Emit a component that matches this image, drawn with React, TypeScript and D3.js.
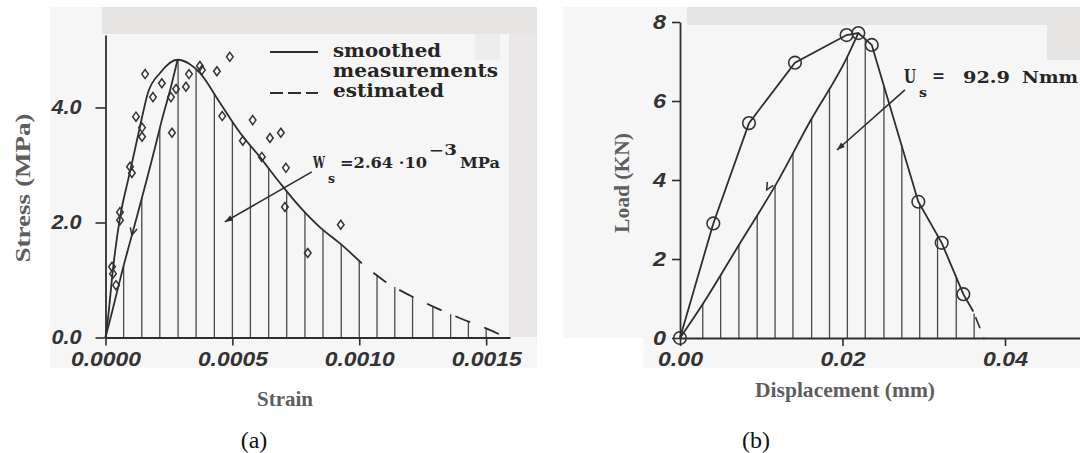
import React, { useEffect, useRef } from 'react';
import * as d3 from 'd3';

// (a) stress vs strain
const strainTicks = [0, 0.0005, 0.001, 0.0015];
const strainTickLabels = ['0.0000', '0.0005', '0.0010', '0.0015'];
const stressTicks = [0, 2, 4];
const stressTickLabels = ['0.0', '2.0', '4.0'];

const smoothedStrain = [0, 0.00001, 0.00003, 0.000057, 0.000088, 0.000104, 0.000124, 0.000144, 0.000167, 0.000215, 0.000284, 0.00033, 0.000372, 0.000451, 0.00053, 0.000608, 0.000687, 0.000766, 0.000844, 0.000923, 0.00101];
const smoothedStress = [0, 0.34, 1.21, 2.08, 2.72, 3.03, 3.43, 3.83, 4.25, 4.6, 4.83, 4.76, 4.6, 4.08, 3.56, 3.14, 2.69, 2.27, 1.92, 1.64, 1.29];

const unloadStrainA = [0, 0.0000256, 0.000065, 0.000104, 0.000163, 0.000195, 0.000222, 0.000258, 0.000284];
const unloadStressA = [0, 0.44, 1.14, 1.78, 2.75, 3.3, 3.78, 4.36, 4.83];

const estimatedStrain = [0.00101, 0.0011, 0.0012, 0.0013, 0.0014, 0.0015, 0.00158];
const estimatedStress = [1.29, 0.98, 0.73, 0.52, 0.33, 0.16, 0];

const measuredStrain = [0.0000256, 0.0000295, 0.0000413, 0.0000571, 0.0000571, 0.0000965, 0.000104, 0.00012, 0.000144, 0.000144, 0.000156, 0.000187, 0.000222, 0.000258, 0.000262, 0.000278, 0.000317, 0.000329, 0.000372, 0.00038, 0.000439, 0.00049, 0.00046, 0.000541, 0.00058, 0.000616, 0.000648, 0.000691, 0.000711, 0.000707, 0.000927, 0.000797];
const measuredStress = [1.23, 1.11, 0.91, 2.18, 2.04, 2.97, 2.86, 3.84, 3.65, 3.49, 4.58, 4.18, 4.42, 4.18, 3.56, 4.32, 4.36, 4.58, 4.72, 4.65, 4.63, 4.88, 3.85, 3.42, 3.78, 3.14, 3.47, 3.56, 2.95, 2.27, 1.96, 1.47];

const hatchStrain = [0.0000714, 0.000143, 0.000214, 0.000286, 0.000357, 0.000429, 0.0005, 0.000571, 0.000643, 0.000714, 0.000786, 0.000857, 0.000929, 0.001, 0.00107, 0.00114, 0.00121, 0.00129, 0.00136, 0.00143, 0.0015];

// (b) load vs displacement
const dispTicks = [0, 0.02, 0.04];
const dispTickLabels = ['0.00', '0.02', '0.04'];
const loadTicks = [0, 2, 4, 6, 8];

const measuredDisp = [0, 0.0041, 0.00849, 0.01415, 0.0205, 0.02195, 0.0236, 0.02933, 0.03221, 0.03487];
const measuredLoad = [0, 2.9, 5.44, 6.97, 7.67, 7.72, 7.42, 3.45, 2.41, 1.11];
const tailDisp = [0.03487, 0.0361];
const tailLoad = [1.11, 0.67];
const estimatedDisp = [0.0361, 0.0374];
const estimatedLoad = [0.67, 0];

const unloadDispB = [0, 0.00287, 0.00738, 0.0119, 0.016, 0.0205, 0.02195];
const unloadLoadB = [0, 0.88, 2.4, 3.92, 5.48, 7.08, 7.72];

const hatchDisp = [0.0028, 0.005, 0.00725, 0.0095, 0.0117, 0.0139, 0.0162, 0.0184, 0.0206, 0.0228, 0.0251, 0.0273, 0.0295, 0.0317, 0.034, 0.0362];

const INK = '#2e2e2e';
const TICK_FONT = '"Liberation Sans", Arial, sans-serif';
const TITLE_FONT = '"Liberation Serif", "Times New Roman", serif';
const SLAB_FONT = '"DejaVu Serif", serif';

type Sel = d3.Selection<SVGGElement, unknown, null, undefined>;

function styleAxis(g: Sel, len: number) {
  g.select('.domain').attr('stroke', INK).attr('stroke-width', 1.8);
  g.selectAll('.tick line').attr('stroke', INK).attr('stroke-width', 1.6);
  g.selectAll('.tick text')
    .attr('fill', '#333')
    .attr('font-family', TICK_FONT)
    .attr('font-size', 20)
    .attr('font-weight', 'bold')
    .attr('font-style', 'italic')
    .attr('textLength', len)
    .attr('lengthAdjust', 'spacingAndGlyphs');
}

function addText(svg: Sel, x: number, y: number, str: string, size: number, len: number | null, font = SLAB_FONT, anchor = 'start') {
  const t = svg.append('text')
    .attr('x', x).attr('y', y)
    .attr('font-family', font)
    .attr('font-size', size)
    .attr('font-weight', 'bold')
    .attr('fill', '#262626')
    .attr('text-anchor', anchor)
    .text(str);
  if (len) t.attr('textLength', len).attr('lengthAdjust', 'spacingAndGlyphs');
  return t;
}

function arrow(svg: Sel, x1: number, y1: number, x2: number, y2: number) {
  svg.append('line').attr('x1', x1).attr('y1', y1).attr('x2', x2).attr('y2', y2)
    .attr('stroke', INK).attr('stroke-width', 1.6);
  const a = Math.atan2(y2 - y1, x2 - x1);
  const l = 8, w = 3;
  const bx = x2 - l * Math.cos(a), by = y2 - l * Math.sin(a);
  svg.append('path')
    .attr('d', `M${x2},${y2}L${bx - w * Math.sin(a)},${by + w * Math.cos(a)}L${bx + w * Math.sin(a)},${by - w * Math.cos(a)}Z`)
    .attr('fill', INK);
}

// small open chevron pointing down along a line (towards origin)
function chevron(svg: Sel, x: number, y: number, x0: number, y0: number) {
  const a = Math.atan2(y - y0, x - x0); // direction back up the line
  const l = 8;
  const p1 = [x + l * Math.cos(a + 0.45), y + l * Math.sin(a + 0.45)];
  const p2 = [x + l * Math.cos(a - 0.45), y + l * Math.sin(a - 0.45)];
  svg.append('path')
    .attr('d', `M${p1[0]},${p1[1]}L${x},${y}L${p2[0]},${p2[1]}`)
    .attr('fill', 'none').attr('stroke', INK).attr('stroke-width', 1.5);
}

export default function App() {
  const svgRef = useRef<SVGSVGElement>(null);

  useEffect(() => {
    if (!svgRef.current) return;
    const root = d3.select(svgRef.current);
    root.selectAll('*').remove();
    const svg = root.append('g') as unknown as Sel;

    // scanned page backgrounds
    const bg = [
      { x: 50, y: 7, w: 487, h: 361, c: '#f6f6f6' },
      { x: 102, y: 7, w: 435, h: 27, c: '#e7e4e4' },
      { x: 509, y: 34, w: 28, h: 303, c: '#e9e7e7' },
      { x: 475, y: 34, w: 25, h: 26, c: '#eeeded' },
      { x: 563, y: 7, w: 517, h: 331, c: '#f6f6f6' },
      { x: 643, y: 338, w: 437, h: 30, c: '#f6f6f6' },
      { x: 687, y: 7, w: 393, h: 18, c: '#e7e4e4' },
      { x: 1047, y: 7, w: 33, h: 53, c: '#e7e4e4' },
    ];
    svg.selectAll('rect.bg').data(bg).join('rect')
      .attr('x', d => d.x).attr('y', d => d.y).attr('width', d => d.w).attr('height', d => d.h)
      .attr('fill', d => d.c);

    // ---------- panel (a) ----------
    const xA = d3.scaleLinear().domain([0, 0.001594]).range([105.5, 510]);
    const yA = d3.scaleLinear().domain([0, 5.26]).range([337.5, 35]);

    const upperXA = [...unloadStrainA,
      ...smoothedStrain.filter(s => s > 0.000284),
      ...estimatedStrain.slice(1)];
    const upperYA = [...unloadStressA,
      ...smoothedStress.filter((_, i) => smoothedStrain[i] > 0.000284),
      ...estimatedStress.slice(1)];
    const upperA = d3.scaleLinear().domain(upperXA).range(upperYA);

    svg.selectAll('line.hatchA').data(hatchStrain).join('line')
      .attr('x1', d => xA(d)).attr('x2', d => xA(d))
      .attr('y1', yA(0)).attr('y2', d => yA(upperA(d)))
      .attr('stroke', '#4a4a4a').attr('stroke-width', 1.3);

    const lineA = d3.line<number>().curve(d3.curveMonotoneX);
    svg.append('path')
      .attr('d', lineA.x(d => xA(d)).y((_, i) => yA(smoothedStress[i]))(smoothedStrain))
      .attr('fill', 'none').attr('stroke', INK).attr('stroke-width', 1.8);
    svg.append('path')
      .attr('d', lineA.x(d => xA(d)).y((_, i) => yA(unloadStressA[i]))(unloadStrainA))
      .attr('fill', 'none').attr('stroke', INK).attr('stroke-width', 1.8);
    svg.append('path')
      .attr('d', lineA.x(d => xA(d)).y((_, i) => yA(estimatedStress[i]))(estimatedStrain))
      .attr('fill', 'none').attr('stroke', INK).attr('stroke-width', 1.8)
      .attr('stroke-dasharray', '16 15').attr('stroke-dashoffset', 16);

    svg.selectAll('path.diamond').data(measuredStrain).join('path')
      .attr('transform', (d, i) => `translate(${xA(d)},${yA(measuredStress[i])})`)
      .attr('d', 'M0,-4.5L3.3,0L0,4.5L-3.3,0Z')
      .attr('fill', 'none').attr('stroke', '#333').attr('stroke-width', 1.5);

    const gxA = svg.append('g').attr('transform', `translate(0,${yA(0)})`)
      .call(d3.axisBottom(xA).tickValues(strainTicks).tickSize(8).tickSizeOuter(0).tickPadding(6)
        .tickFormat((_, i) => strainTickLabels[i])) as Sel;
    styleAxis(gxA, 70);
    const gyA = svg.append('g').attr('transform', `translate(${xA(0)},0)`)
      .call(d3.axisLeft(yA).tickValues(stressTicks).tickSize(10).tickSizeOuter(0).tickPadding(14)
        .tickFormat((_, i) => stressTickLabels[i])) as Sel;
    styleAxis(gyA, 30);

    chevron(svg, xA(0.000104), yA(1.78), xA(0), yA(0));

    // legend
    svg.append('line').attr('x1', 270).attr('x2', 318).attr('y1', 52).attr('y2', 52)
      .attr('stroke', INK).attr('stroke-width', 1.8);
    svg.append('line').attr('x1', 270).attr('x2', 318).attr('y1', 93).attr('y2', 93)
      .attr('stroke', INK).attr('stroke-width', 1.8).attr('stroke-dasharray', '13 5');
    addText(svg, 333, 57, 'smoothed', 18, 108);
    addText(svg, 333, 77, 'measurements', 18, 165);
    addText(svg, 333, 97, 'estimated', 18, 111);

    // W_s annotation
    arrow(svg, xA(0.000813), yA(2.88), xA(0.00047), yA(2.01));
    addText(svg, 313, 168, 'W', 17, 12);
    addText(svg, 328, 183, 's', 13, 7);
    addText(svg, 340, 168, '=2.64 ·10', 15, 87);
    addText(svg, 429, 155, '−3', 14, 28);
    addText(svg, 460, 168, 'MPa', 15, 40);

    // titles
    svg.append('text')
      .attr('transform', 'translate(30,188) rotate(-90)')
      .attr('text-anchor', 'middle').attr('font-family', TITLE_FONT).attr('font-size', 20)
      .attr('font-weight', 'bold').attr('fill', '#5e5e5e')
      .attr('textLength', 149).attr('lengthAdjust', 'spacingAndGlyphs')
      .text('Stress (MPa)');
    addText(svg, 285, 406, 'Strain', 20, 56, TITLE_FONT, 'middle').attr('fill', '#5e5e5e');
    addText(svg, 254, 448, '(a)', 24, null, TITLE_FONT, 'middle').attr('font-weight', 'normal').attr('fill', '#111');

    // ---------- panel (b) ----------
    const xB = d3.scaleLinear().domain([0, 0.04923]).range([680, 1080]);
    const yB = d3.scaleLinear().domain([0, 8]).range([338, 22]);

    const upperXB = [...unloadDispB,
      ...measuredDisp.filter(d => d > 0.02195), ...tailDisp.slice(1), ...estimatedDisp.slice(1)];
    const upperYB = [...unloadLoadB,
      ...measuredLoad.filter((_, i) => measuredDisp[i] > 0.02195), ...tailLoad.slice(1), ...estimatedLoad.slice(1)];
    const upperB = d3.scaleLinear().domain(upperXB).range(upperYB);

    svg.selectAll('line.hatchB').data(hatchDisp).join('line')
      .attr('x1', d => xB(d)).attr('x2', d => xB(d))
      .attr('y1', yB(0)).attr('y2', d => yB(upperB(d)))
      .attr('stroke', '#4a4a4a').attr('stroke-width', 1.3);

    const lineLin = d3.line<number>();
    svg.append('path')
      .attr('d', lineLin.x(d => xB(d)).y((_, i) => yB(measuredLoad[i]))(measuredDisp))
      .attr('fill', 'none').attr('stroke', INK).attr('stroke-width', 1.8);
    svg.append('path')
      .attr('d', lineLin.x(d => xB(d)).y((_, i) => yB(tailLoad[i]))(tailDisp))
      .attr('fill', 'none').attr('stroke', INK).attr('stroke-width', 1.8);
    svg.append('path')
      .attr('d', lineLin.x(d => xB(d)).y((_, i) => yB(estimatedLoad[i]))(estimatedDisp))
      .attr('fill', 'none').attr('stroke', INK).attr('stroke-width', 1.6)
      .attr('stroke-dasharray', '0 6 12 4');
    svg.append('path')
      .attr('d', d3.line<number>().curve(d3.curveMonotoneX).x(d => xB(d)).y((_, i) => yB(unloadLoadB[i]))(unloadDispB))
      .attr('fill', 'none').attr('stroke', INK).attr('stroke-width', 1.8);

    svg.selectAll('circle.pt').data(measuredDisp).join('circle')
      .attr('cx', d => xB(d)).attr('cy', (_, i) => yB(measuredLoad[i])).attr('r', 6.3)
      .attr('fill', 'none').attr('stroke', '#333').attr('stroke-width', 1.6);

    const gxB = svg.append('g').attr('transform', `translate(0,${yB(0)})`)
      .call(d3.axisBottom(xB).tickValues(dispTicks).tickSize(8).tickSizeOuter(0).tickPadding(6)
        .tickFormat((_, i) => dispTickLabels[i])) as Sel;
    styleAxis(gxB, 45);
    const gyB = svg.append('g').attr('transform', `translate(${xB(0)},0)`)
      .call(d3.axisLeft(yB).tickValues(loadTicks).tickSize(8).tickSizeOuter(0).tickPadding(6)
        .tickFormat(d => String(d))) as Sel;
    styleAxis(gyB, 13);

    chevron(svg, xB(0.01067), yB(3.75), xB(0), yB(0));

    // U_s annotation
    arrow(svg, xB(0.02769), yB(6.28), xB(0.01932), yB(4.76));
    addText(svg, 904, 83, 'U', 18, 12);
    addText(svg, 919, 97, 's', 13, 8);
    addText(svg, 932, 81, '=', 17, 13);
    addText(svg, 963, 83, '92.9', 17, 47);
    addText(svg, 1022, 83, 'Nmm', 17, 56);

    svg.append('text')
      .attr('transform', 'translate(629,183) rotate(-90)')
      .attr('text-anchor', 'middle').attr('font-family', TITLE_FONT).attr('font-size', 20)
      .attr('font-weight', 'bold').attr('fill', '#5e5e5e')
      .attr('textLength', 100).attr('lengthAdjust', 'spacingAndGlyphs')
      .text('Load (KN)');
    addText(svg, 845, 397, 'Displacement (mm)', 20, 180, TITLE_FONT, 'middle').attr('fill', '#5e5e5e');
    addText(svg, 756, 448, '(b)', 24, null, TITLE_FONT, 'middle').attr('font-weight', 'normal').attr('fill', '#111');
  }, []);

  return (
    <svg
      ref={svgRef}
      width={1080}
      height={453}
      style={{ position: 'absolute', left: 0, top: 0, background: '#fff' }}
    />
  );
}
